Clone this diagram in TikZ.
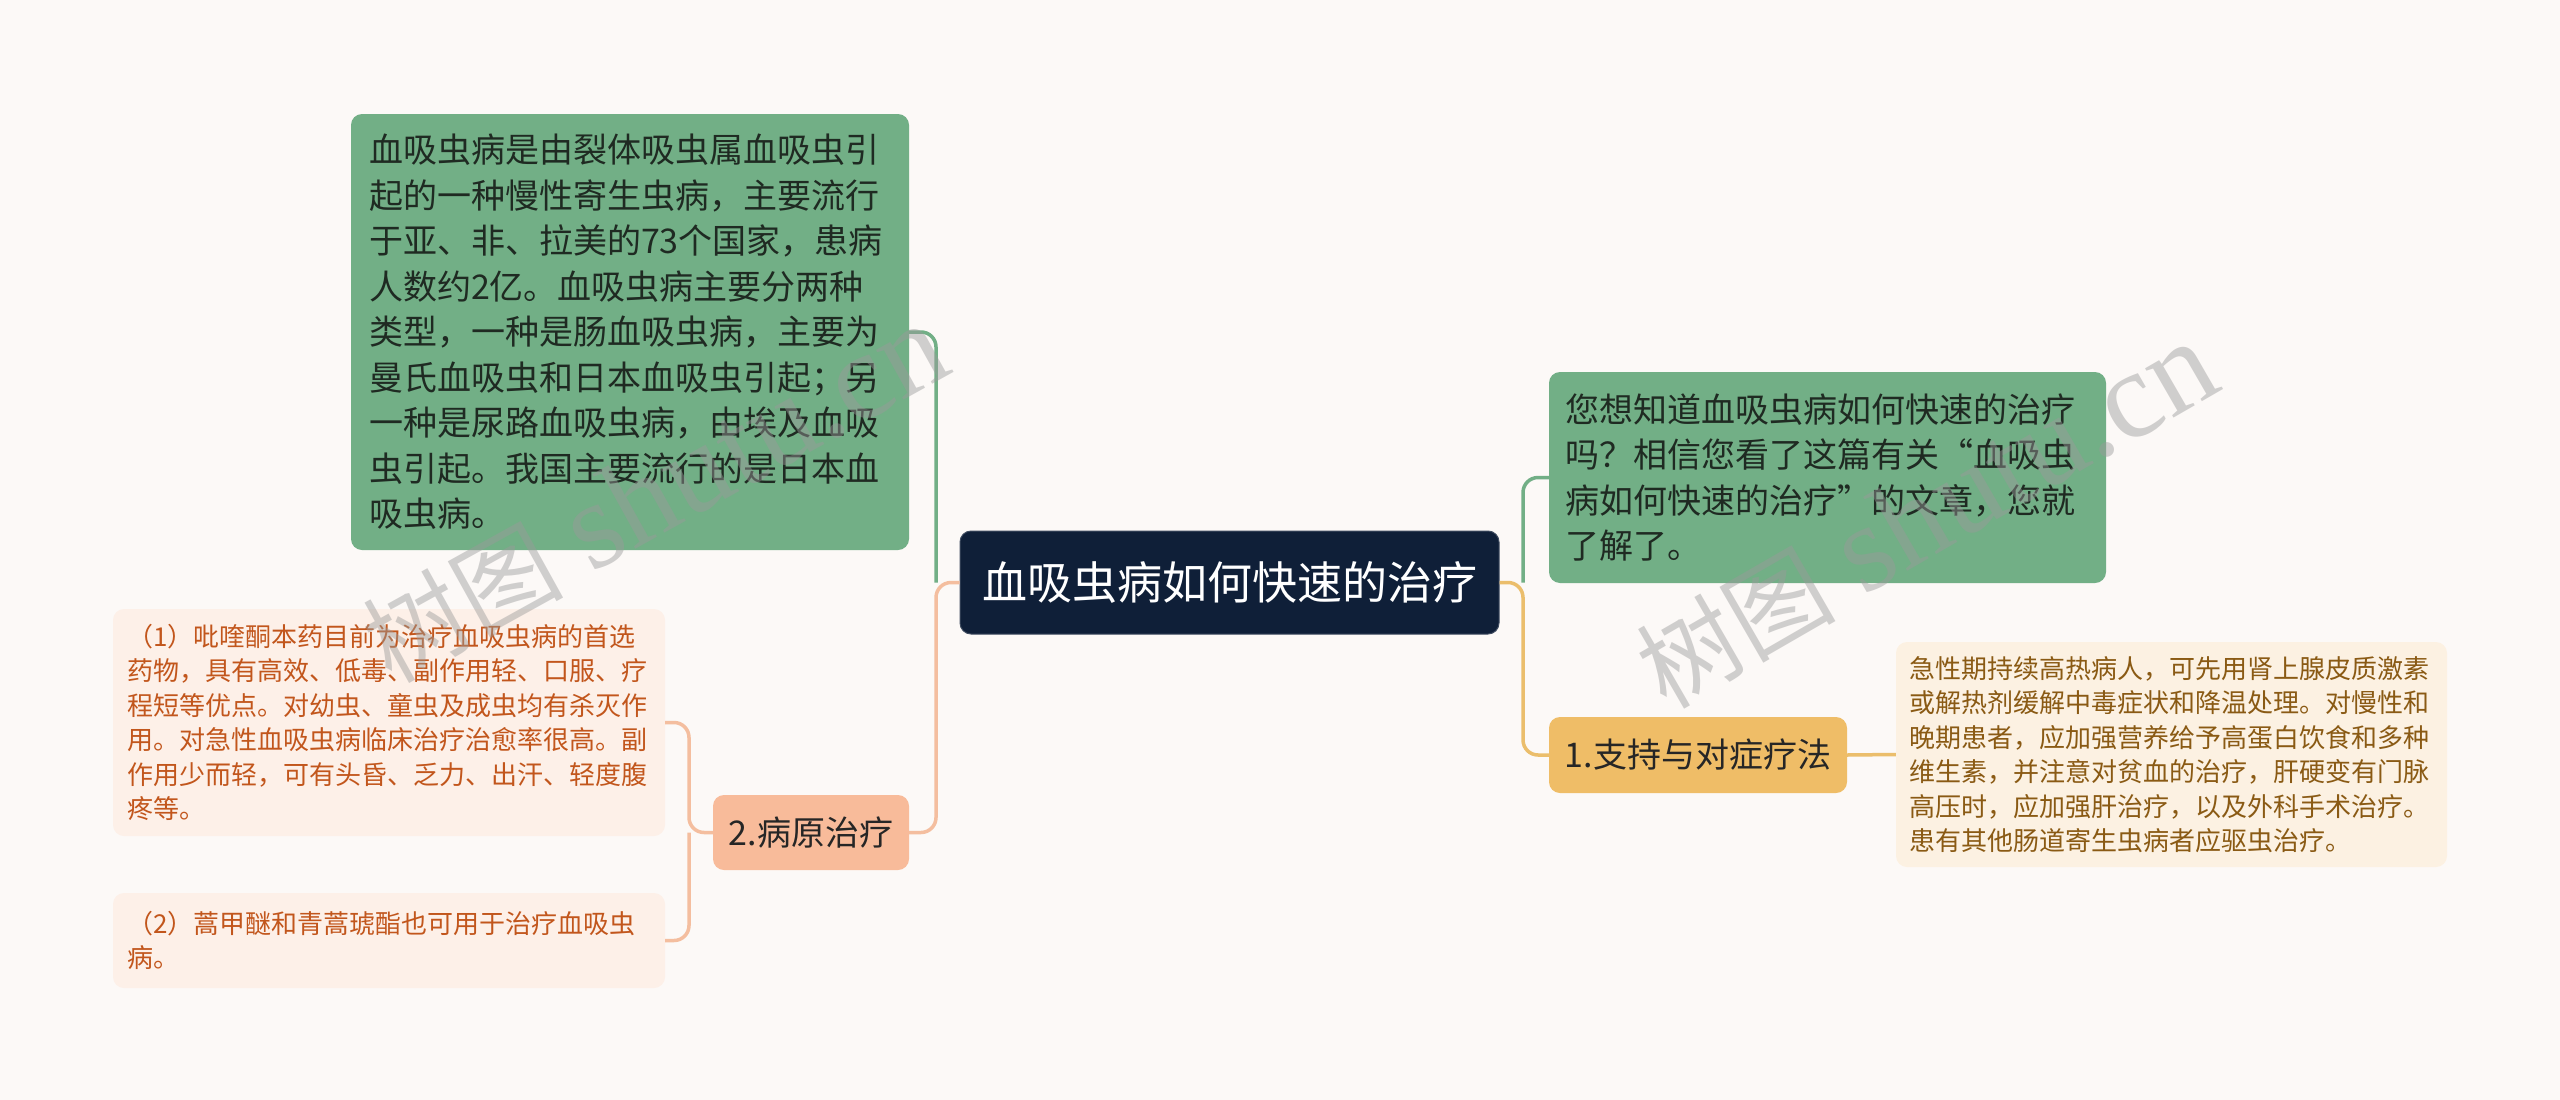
\documentclass[tikz,border=0pt]{standalone}
\usepackage{fontspec}
\setmainfont{Noto Sans CJK SC}
\newfontfamily\wmlatin{Liberation Serif}
\newfontfamily\wmcjk{Noto Sans CJK SC}
\definecolor{bgc}{HTML}{FCF9F7}
\definecolor{rootc}{HTML}{0F1F38}
\definecolor{greenc}{HTML}{72AF86}
\definecolor{greentxt}{HTML}{1F2A22}
\definecolor{orangec}{HTML}{EFBD67}
\definecolor{orangeline}{HTML}{EBBE6C}
\definecolor{salmonc}{HTML}{F8BB9A}
\definecolor{salmonline}{HTML}{F4BE9F}
\definecolor{lightl}{HTML}{FDF0E8}
\definecolor{lighttxt}{HTML}{C2561C}
\definecolor{lightr}{HTML}{FCF1E2}
\definecolor{rtxt}{HTML}{8A5A14}
\definecolor{wmc}{HTML}{9A9A9A}
\tikzset{
  basebox/.style={rounded corners=11pt, inner ysep=0pt},
  multibox/.style={basebox, align=left},
  gbox/.style={multibox, fill=greenc, text=greentxt, font=\fontsize{34}{45.5}\selectfont},
  lbox/.style={multibox, fill=lightl, text=lighttxt, font=\fontsize{26}{34.5}\selectfont},
  rbox/.style={multibox, fill=lightr, text=rtxt, font=\fontsize{26}{34.5}\selectfont},
  rootbox/.style={basebox, fill=rootc, draw=rootc!80!white, line width=1pt, text=white, font=\fontsize{45}{50}\selectfont},
  obox/.style={basebox, fill=orangec, text=black!85, font=\fontsize{34}{40}\selectfont},
  sbox/.style={basebox, fill=salmonc, text=black!85, font=\fontsize{34}{40}\selectfont},
  conn/.style={line width=3.5pt, rounded corners=15pt},
  gline/.style={conn, draw=greenc},
  oline/.style={conn, draw=orangeline},
  sline/.style={conn, draw=salmonline},
  wm/.style={text=wmc, text opacity=0.45, inner sep=0pt}
}
\begin{document}
\begin{tikzpicture}[x=1pt,y=-1pt]
\fill[bgc] (0,0) rectangle (2560,1100);
\useasboundingbox (0,0) rectangle (2560,1100);

% nodes
\node[rootbox, minimum width=539pt, minimum height=103pt] (root) at (1229.5,582.5) {血吸虫病如何快速的治疗};

\node[gbox, text width=522pt, inner xsep=18pt, minimum height=436pt] (G1) at (630,332) {血吸虫病是由裂体吸虫属血吸虫引\\起的一种慢性寄生虫病，主要流行\\于亚、非、拉美的73个国家，患病\\人数约2亿。血吸虫病主要分两种\\类型，一种是肠血吸虫病，主要为\\曼氏血吸虫和日本血吸虫引起；另\\一种是尿路血吸虫病，由埃及血吸\\虫引起。我国主要流行的是日本血\\吸虫病。};

\node[gbox, text width=525pt, inner xsep=16pt, minimum height=211pt] (G2) at (1827.5,477.5) {您想知道血吸虫病如何快速的治疗\\吗？相信您看了这篇有关“血吸虫\\病如何快速的治疗”的文章，您就\\了解了。};

\node[obox, minimum width=298pt, minimum height=76pt] (O1) at (1698,755) {1.支持与对症疗法};

\node[rbox, text width=525pt, inner xsep=13pt, minimum height=225pt] (D1) at (2171.5,754.5) {急性期持续高热病人，可先用肾上腺皮质激素\\或解热剂缓解中毒症状和降温处理。对慢性和\\晚期患者，应加强营养给予高蛋白饮食和多种\\维生素，并注意对贫血的治疗，肝硬变有门脉\\高压时，应加强肝治疗，以及外科手术治疗。\\患有其他肠道寄生虫病者应驱虫治疗。};

\node[sbox, minimum width=196pt, minimum height=75pt] (S1) at (811,832.5) {2.病原治疗};

\node[lbox, text width=524pt, inner xsep=14pt, minimum height=227pt] (L1) at (389,722.5) {（1）吡喹酮本药目前为治疗血吸虫病的首选\\药物，具有高效、低毒、副作用轻、口服、疗\\程短等优点。对幼虫、童虫及成虫均有杀灭作\\用。对急性血吸虫病临床治疗治愈率很高。副\\作用少而轻，可有头昏、乏力、出汗、轻度腹\\疼等。};

\node[lbox, text width=524pt, inner xsep=14pt, minimum height=95pt] (L2) at (389,940.5) {（2）蒿甲醚和青蒿琥酯也可用于治疗血吸虫\\病。};

% junctions
\coordinate (jL) at (936,582.5);
\coordinate (jR) at (1523,582.5);
\coordinate (jS) at (689,832.5);

% connectors
\draw[gline] (G1.east) -| (jL);
\draw[sline] (S1.east) -| (jL) -- (root.west);
\draw[gline] (jR) |- (G2.west);
\draw[oline] (root.east) -- (jR) |- (O1.west);
\draw[oline] (O1.east) -- (D1.west);
\draw[sline] (S1.west) -- (jS) |- (L1.east);
\draw[sline] (jS) |- (L2.east);

% watermarks
\node[wm, rotate=29] (wm1) at (655,494) {{\wmcjk\fontsize{100}{110}\selectfont 树图}\hspace{28pt}{\wmlatin\fontsize{124}{135}\selectfont shutu.cn}};
\node[wm, rotate=30] (wm2) at (1926,516) {{\wmcjk\fontsize{100}{110}\selectfont 树图}\hspace{28pt}{\wmlatin\fontsize{124}{135}\selectfont shutu.cn}};
\end{tikzpicture}
\end{document}
